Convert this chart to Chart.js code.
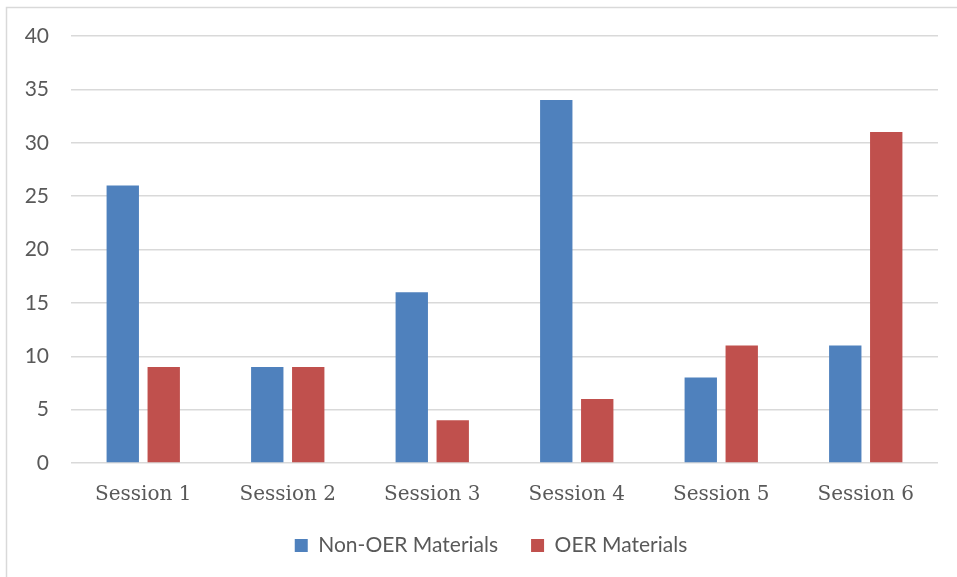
<!DOCTYPE html>
<html>
<head>
<meta charset="utf-8">
<script src="https://cdn.jsdelivr.net/npm/chart.js@4"></script>
<style>
  html, body { margin: 0; padding: 0; background: #fff; }
  #wrap { position: relative; width: 957px; height: 577px; }
</style>
</head>
<body>
<div id="wrap"><canvas id="chart" width="957" height="577"></canvas></div>
<script>
// Session labels and counts per material type
const sessions = ['Session 1', 'Session 2', 'Session 3', 'Session 4', 'Session 5', 'Session 6'];
const nonOerCounts = [26, 9, 16, 34, 8, 11];
const oerCounts = [9, 9, 4, 6, 11, 31];
const seriesNames = ['Non-OER Materials', 'OER Materials'];
const yTicksMin = 0;
const yTicksMax = 40;
const yTicksStep = 5;

const textColor = '#595959';
const gridColor = '#D9D9D9';

// Thin frame along the top and left edges of the chart box
const framePlugin = {
  id: 'frame',
  beforeDraw(chart) {
    const ctx = chart.ctx;
    ctx.save();
    ctx.fillStyle = '#fff';
    ctx.fillRect(0, 0, chart.width, chart.height);
    ctx.strokeStyle = gridColor;
    ctx.lineWidth = 1.5;
    ctx.beginPath();
    ctx.moveTo(6.5, chart.height);
    ctx.lineTo(6.5, 7.5);
    ctx.lineTo(chart.width, 7.5);
    ctx.stroke();
    ctx.restore();
  }
};

// Nudge the bottom legend a little to the right of the canvas centre
const legendShiftPlugin = {
  id: 'legendShift',
  afterLayout(chart) {
    const shift = 22;
    if (chart.legend) {
      chart.legend.left += shift;
      chart.legend.right += shift;
    }
  }
};

new Chart(document.getElementById('chart'), {
  type: 'bar',
  data: {
    labels: sessions,
    datasets: [
      {
        label: seriesNames[0],
        data: nonOerCounts,
        backgroundColor: '#4F81BD',
        categoryPercentage: 0.567,
        barPercentage: 0.79
      },
      {
        label: seriesNames[1],
        data: oerCounts,
        backgroundColor: '#C0504D',
        categoryPercentage: 0.567,
        barPercentage: 0.79
      }
    ]
  },
  options: {
    responsive: false,
    animation: false,
    layout: { padding: { left: 0, right: 19, top: 36, bottom: 11 } },
    plugins: {
      legend: {
        position: 'bottom',
        labels: {
          boxWidth: 13,
          boxHeight: 13,
          padding: 33,
          color: textColor,
          font: { family: 'Lato', size: 21 }
        }
      },
      tooltip: { enabled: false }
    },
    scales: {
      x: {
        grid: { display: false, drawTicks: false },
        border: { display: false },
        ticks: {
          color: textColor,
          padding: 20,
          font: { family: 'DejaVu Serif', size: 20 }
        },
        afterFit(scale) { scale.height = 39; }
      },
      y: {
        min: yTicksMin,
        max: yTicksMax,
        grid: { color: gridColor, lineWidth: 1.5, drawTicks: false },
        border: { display: false },
        ticks: {
          stepSize: yTicksStep,
          color: textColor,
          padding: 22,
          font: { family: 'Lato', size: 21 }
        },
        afterFit(scale) { scale.width = 71; }
      }
    }
  },
  plugins: [framePlugin, legendShiftPlugin]
});
</script>
</body>
</html>
